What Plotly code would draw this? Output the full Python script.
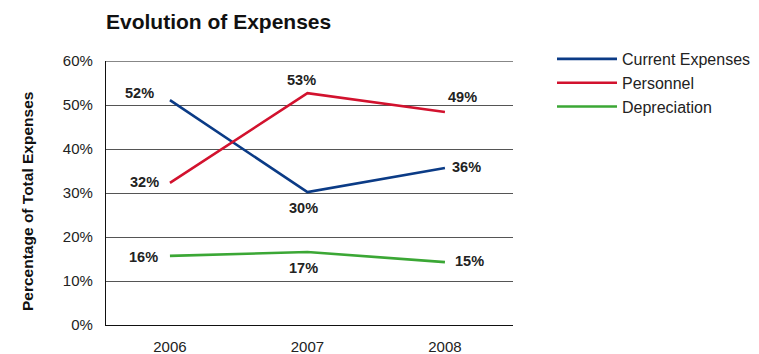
import plotly.graph_objects as go

years = ["2006", "2007", "2008"]
series_names = ["Current Expenses", "Personnel", "Depreciation"]
current = [51.1, 30.2, 35.7]
personnel = [32.3, 52.7, 48.4]
depreciation = [15.7, 16.6, 14.3]
current_labels = ["52%", "30%", "36%"]
personnel_labels = ["32%", "53%", "49%"]
depreciation_labels = ["16%", "17%", "15%"]
y_ticks = [0, 10, 20, 30, 40, 50, 60]
y_tick_text = ["0%", "10%", "20%", "30%", "40%", "50%", "60%"]

colors = ["#0b3b86", "#d2122e", "#3ba735"]
values = [current, personnel, depreciation]
labels = [current_labels, personnel_labels, depreciation_labels]
# label offsets (pixels) per series per point
offsets = [
    [(-30, 7), (-4, -16), (22, 1)],
    [(-25, 1), (-6, 13), (18, 15)],
    [(-26, -1), (-4, -16), (25, 1)],
]

fig = go.Figure()
for name, vals, col in zip(series_names, values, colors):
    fig.add_trace(go.Scatter(x=years, y=vals, mode="lines", name=name,
                             line=dict(color=col, width=2.6)))

annotations = []
for vals, labs, offs in zip(values, labels, offsets):
    for i, (yv, lab, (dx, dy)) in enumerate(zip(vals, labs, offs)):
        annotations.append(dict(x=i, y=yv, xref="x", yref="y", text="<b>" + lab + "</b>",
                                showarrow=False, xshift=dx, yshift=dy,
                                font=dict(family="Liberation Sans Narrow, Arial Narrow, Liberation Sans",
                                          size=14.5, color="#222"),
                                ))
annotations.append(dict(x=(27 - 106) / 407, y=0.5, xref="paper", yref="paper",
                        text="<b>Percentage of Total Expenses</b>", textangle=-90,
                        showarrow=False, xanchor="center", yanchor="middle", yshift=-9,
                        font=dict(family="Liberation Sans, Arial", size=15.5, color="#111")))

fig.update_layout(
    width=759, height=354,
    margin=dict(l=106, r=246, t=61, b=29),
    paper_bgcolor="white", plot_bgcolor="white",
    title=dict(text="<b>Evolution of Expenses</b>", xref="container", yref="container",
               x=106 / 759, xanchor="left", y=1 - 22 / 354, yanchor="middle",
               font=dict(family="Liberation Sans, Arial", size=21, color="#111")),
    font=dict(family="Liberation Sans, Arial", size=15, color="#222"),
    showlegend=True,
    legend=dict(xref="container", yref="container", x=552 / 759, y=1 - 42 / 354,
                xanchor="left", yanchor="top",
                font=dict(size=16, color="#222"), tracegroupgap=0,
                itemwidth=60, bgcolor="rgba(0,0,0,0)"),
    annotations=annotations,
)
fig.update_xaxes(type="category", range=[-0.465, 2.495], showgrid=False,
                 showline=True, linecolor="#111", linewidth=1.2, automargin=False,
                 ticks="outside", ticklen=8, tickcolor="rgba(0,0,0,0)",
                 tickfont=dict(size=15, color="#222"), fixedrange=True)
fig.update_yaxes(range=[0, 60], tickvals=y_ticks, ticktext=y_tick_text,
                 showgrid=True, gridcolor="#555", gridwidth=1, automargin=False,
                 showline=True, linecolor="#111", linewidth=1.2,
                 ticks="outside", ticklen=9, tickcolor="rgba(0,0,0,0)",
                 tickfont=dict(size=15, color="#222"), zeroline=False)
fig.add_shape(type="line", xref="paper", yref="y", x0=0, x1=1, y0=60, y1=60,
              line=dict(color="#111", width=1.2))

fig.write_html("out.html")
